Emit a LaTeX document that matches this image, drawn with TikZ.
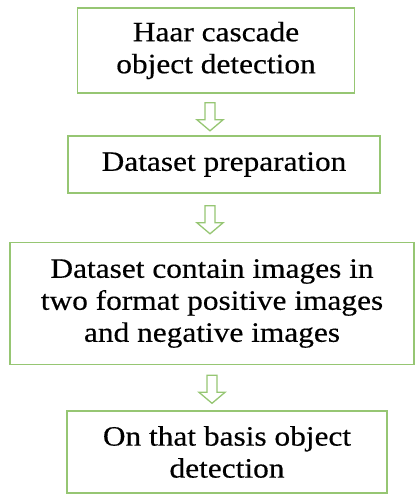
\documentclass[tikz,border=0pt]{standalone}
\usepackage{fontspec}
\setmainfont{Liberation Serif}[FakeStretch=1.12,FakeBold=0.4]
\definecolor{boxgreen}{RGB}{150,198,115}
\tikzset{
  flowbox/.style={draw=boxgreen, line width=1.6pt, align=center, inner sep=0pt,
    font=\fontsize{28}{32}\selectfont, text=black},
  hollowarrow/.style={draw=boxgreen, line width=1.3pt, line join=miter, fill=white}
}
\newcommand\blockarrow[1]{%
  \draw[hollowarrow] #1 ++(-5,0) -- ++(10,0) -- ++(0,17) -- ++(8,0) -- ++(-13,11) -- ++(-13,-11) -- ++(8,0) -- cycle;}
\begin{document}
\begin{tikzpicture}[x=1pt,y=-1pt]
\useasboundingbox (0,0) rectangle (415,495);
\node[flowbox, minimum width=277pt, minimum height=85pt] (b1) at (216,50.5) {Haar cascade\\object detection};
\node[flowbox, minimum width=312pt, minimum height=57pt] (b2) at (224,164.5) {Dataset preparation};
\node[flowbox, minimum width=404pt, minimum height=122pt] (b3) at (212,303.5) {Dataset contain images in\\two format positive images\\and negative images};
\node[flowbox, minimum width=320pt, minimum height=82pt] (b4) at (227,452) {On that basis object\\detection};
\coordinate (a1) at ([yshift=-9pt]b1.south -| 210,0);
\coordinate (a2) at ([yshift=-12pt]b2.south -| 210,0);
\coordinate (a3) at ([yshift=-10pt]b3.south -| 212,0);
\blockarrow{(a1)}
\blockarrow{(a2)}
\blockarrow{(a3)}
\end{tikzpicture}
\end{document}
